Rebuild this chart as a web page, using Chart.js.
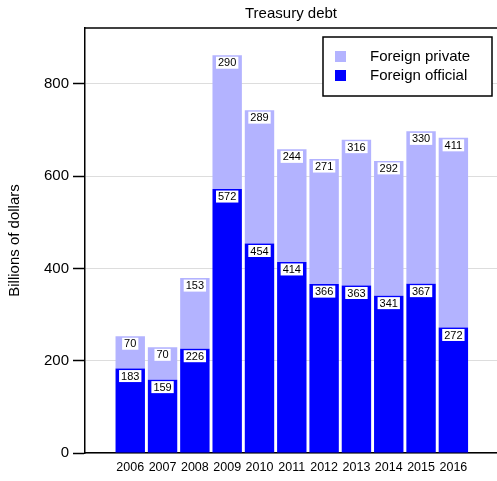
<!DOCTYPE html>
<html>
<head>
<meta charset="utf-8">
<script src="https://cdn.jsdelivr.net/npm/chart.js@4"></script>
<style>
    body { margin: 0; background: #fff; }
</style>
</head>
<body>
<canvas id="myChart" width="497" height="481"></canvas>
<script>
const years = [2006, 2007, 2008, 2009, 2010, 2011, 2012, 2013, 2014, 2015, 2016];
const foreignOfficial = [183, 159, 226, 572, 454, 414, 366, 363, 341, 367, 272];
const foreignPrivate = [70, 70, 153, 290, 289, 244, 271, 316, 292, 330, 411];
const yTicks = [0, 200, 400, 600, 800];
const chartTitle = 'Treasury debt';

const FONT = '"Liberation Sans", Arial, sans-serif';

// white boxes with the value at the top of each segment
const barLabels = {
    id: 'barLabels',
    afterDatasetsDraw(chart) {
        const ctx = chart.ctx;
        ctx.save();
        ctx.font = '11px ' + FONT;
        ctx.textAlign = 'center';
        ctx.textBaseline = 'middle';
        chart.data.datasets.forEach((ds, di) => {
            chart.getDatasetMeta(di).data.forEach((bar, i) => {
                const txt = String(ds.data[i].y);
                const w = ctx.measureText(txt).width + 4;
                const top = bar.y + 1.5;
                ctx.fillStyle = '#fff';
                ctx.fillRect(bar.x - w / 2, top, w, 12);
                ctx.fillStyle = '#000';
                ctx.fillText(txt, bar.x, top + 6.5);
            });
        });
        ctx.restore();
    },
};

// title over the plot, top frame line, legend inside the plot with a frame
const boxLegend = {
    id: 'boxLegend',
    afterDraw(chart) {
        const ctx = chart.ctx;
        const a = chart.chartArea;
        ctx.save();
        ctx.fillStyle = '#000';
        ctx.font = '15px ' + FONT;
        ctx.textAlign = 'center';
        ctx.textBaseline = 'middle';
        ctx.fillText(chartTitle, (a.left + a.right) / 2, 13.5);

        ctx.strokeStyle = '#000';
        ctx.lineWidth = 1.5;
        ctx.beginPath();
        ctx.moveTo(a.left, a.top);
        ctx.lineTo(a.right, a.top);
        ctx.stroke();

        const x0 = a.right - 174;
        const y0 = a.top + 9;
        ctx.fillStyle = '#fff';
        ctx.fillRect(x0, y0, 169, 59);
        ctx.strokeRect(x0, y0, 169, 59);
        const items = chart.data.datasets.slice().reverse();
        ctx.textAlign = 'left';
        items.forEach((ds, i) => {
            const cy = y0 + 20 + i * 19;
            ctx.fillStyle = ds.backgroundColor;
            ctx.fillRect(x0 + 12, cy - 6, 11, 11);
            ctx.fillStyle = '#000';
            ctx.fillText(ds.label, x0 + 47, cy);
        });
        ctx.restore();
    },
};

const ctx = document.getElementById('myChart');

new Chart(ctx, {
    type: 'bar',
    data: {
        datasets: [
            {
                label: 'Foreign official',
                data: years.map((y, i) => ({ x: y, y: foreignOfficial[i] })),
                backgroundColor: '#0000ff',
            },
            {
                label: 'Foreign private',
                data: years.map((y, i) => ({ x: y, y: foreignPrivate[i] })),
                backgroundColor: '#b3b3ff',
            },
        ],
    },
    options: {
        responsive: false,
        animation: false,
        devicePixelRatio: 1,
        categoryPercentage: 1,
        barPercentage: 0.91,
        layout: { padding: { top: 28, left: 0, right: 0, bottom: 0 } },
        plugins: {
            legend: { display: false },
            tooltip: { enabled: false },
            title: { display: false },
        },
        scales: {
            x: {
                type: 'linear',
                stacked: true,
                offset: false,
                min: 2004.6,
                max: 2017.35,
                grid: { display: false, drawTicks: false, offset: false },
                border: { display: true, color: '#000', width: 1.5 },
                afterBuildTicks: (scale) => {
                    scale.ticks = years.map((v) => ({ value: v }));
                },
                afterFit: (scale) => {
                    scale.height = 28;
                },
                ticks: {
                    color: '#000',
                    autoSkip: false,
                    maxRotation: 0,
                    padding: 7,
                    font: { family: FONT, size: 12.5 },
                    callback: (v) => String(v),
                },
            },
            y: {
                stacked: true,
                min: 0,
                max: 921,
                grid: { color: '#dddddd', tickColor: '#000', tickLength: 12, tickWidth: 1.5 },
                border: { display: true, color: '#000', width: 1.5 },
                afterBuildTicks: (scale) => {
                    scale.ticks = yTicks.map((v) => ({ value: v }));
                },
                afterFit: (scale) => {
                    scale.width = 85;
                },
                ticks: {
                    color: '#000',
                    padding: 4,
                    font: { family: FONT, size: 15 },
                },
                title: {
                    display: true,
                    text: 'Billions of dollars',
                    color: '#000',
                    font: { family: FONT, size: 15 },
                    padding: { top: 6, bottom: 0 },
                },
            },
        },
    },
    plugins: [barLabels, boxLegend],
});
</script>
</body>
</html>
